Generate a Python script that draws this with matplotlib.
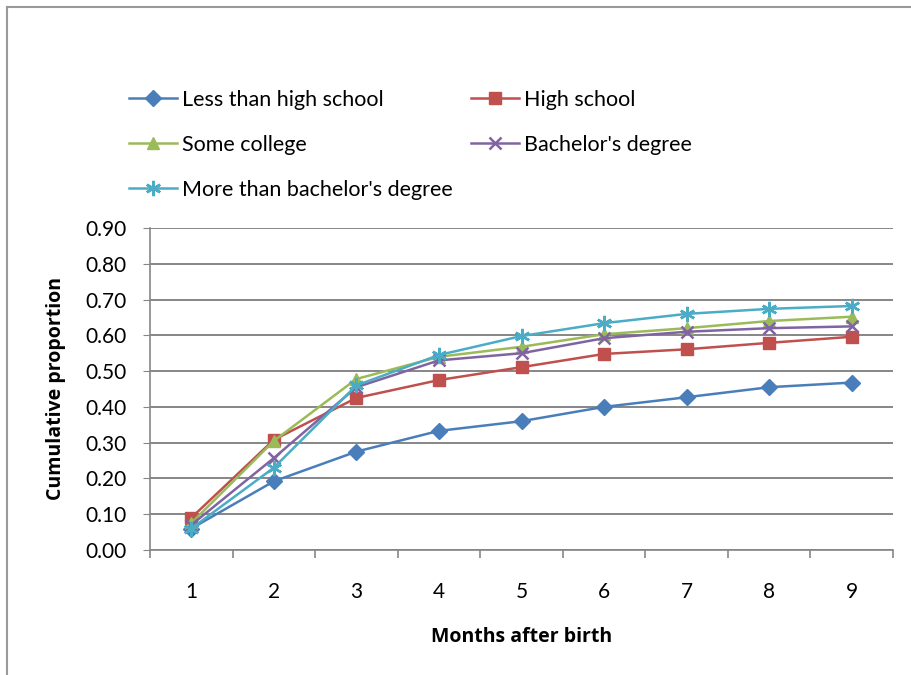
import matplotlib
matplotlib.use('Agg')
import matplotlib.pyplot as plt
from matplotlib.lines import Line2D
import numpy as np

plt.rcParams['font.family'] = ['Lato', 'DejaVu Sans']

months = [1, 2, 3, 4, 5, 6, 7, 8, 9]
less_than_hs = [0.060, 0.192, 0.275, 0.333, 0.360, 0.400, 0.427, 0.455, 0.468]
high_school = [0.090, 0.308, 0.425, 0.475, 0.511, 0.548, 0.561, 0.579, 0.596]
some_college = [0.075, 0.305, 0.478, 0.540, 0.568, 0.603, 0.620, 0.640, 0.652]
bachelors = [0.070, 0.257, 0.455, 0.530, 0.550, 0.592, 0.610, 0.620, 0.625]
more_than_ba = [0.060, 0.230, 0.460, 0.545, 0.598, 0.634, 0.660, 0.674, 0.682]
y_ticks = [0.0, 0.1, 0.2, 0.3, 0.4, 0.5, 0.6, 0.7, 0.8, 0.9]

series = [
    ('Less than high school', less_than_hs, '#4A7EBB', 'D', 8),
    ('High school', high_school, '#C0504D', 's', 9),
    ('Some college', some_college, '#9BBB59', '^', 9),
    ("Bachelor's degree", bachelors, '#8064A2', 'x', 9),
    ("More than bachelor's degree", more_than_ba, '#4BACC6', (6, 2, 0), 11),
]

fig = plt.figure(figsize=(9.11, 6.75), dpi=100)
ax = fig.add_axes([150 / 911, 125 / 675, 743 / 911, 322 / 675])

handles = []
for name, vals, color, marker, ms in series:
    mew = 1.8 if marker in ('x', (6, 2, 0)) else 1
    h, = ax.plot(months, vals, color=color, lw=1.8, marker=marker, ms=ms,
                 mew=mew, mec=color, mfc=color, label=name)
    handles.append(h)

grid_color = '#868686'
ax.set_xlim(0.5, 9.5)
ax.set_ylim(0, 0.9)
ax.set_yticks(y_ticks)
ax.set_yticklabels([f'{v:.2f}' for v in y_ticks])
ax.set_xticks(months)
ax.set_xticks(np.arange(0.5, 10, 1), minor=True)
ax.yaxis.grid(True, color=grid_color, lw=1.4)
ax.set_axisbelow(True)
for s in ['top', 'right']:
    ax.spines[s].set_visible(False)
for s in ['left', 'bottom']:
    ax.spines[s].set_color(grid_color)
    ax.spines[s].set_linewidth(1.2)
ax.tick_params(axis='y', length=5, color=grid_color, labelsize=15, pad=12)
ax.tick_params(axis='x', which='major', length=0, labelsize=15, pad=23)
ax.tick_params(axis='x', which='minor', length=6, color=grid_color, width=1.2)

label_font = {'family': ['Open Sans', 'DejaVu Sans'], 'size': 14, 'weight': 'bold'}
ax.set_xlabel('Months after birth', fontdict=label_font, labelpad=18)
ax.set_ylabel('Cumulative proportion', fontdict=label_font, labelpad=14)

order = [0, 2, 4, 1, 3]
fig.legend([handles[i] for i in order], [series[i][0] for i in order],
           loc='upper left', bbox_to_anchor=(129 / 911, 1 - 90 / 675),
           ncol=2, frameon=False, fontsize=15.5, handlelength=2.25,
           handletextpad=0.2, columnspacing=0.85, labelspacing=1.15,
           borderpad=0, borderaxespad=0)

# outer chart border (left and top visible)
fig.add_artist(Line2D([7 / 911, 7 / 911], [0, 1 - 7 / 675], transform=fig.transFigure,
                      color='#999999', lw=1.5))
fig.add_artist(Line2D([7 / 911, 1], [1 - 7 / 675, 1 - 7 / 675], transform=fig.transFigure,
                      color='#999999', lw=1.5))

fig.savefig('out.png', dpi=100)
